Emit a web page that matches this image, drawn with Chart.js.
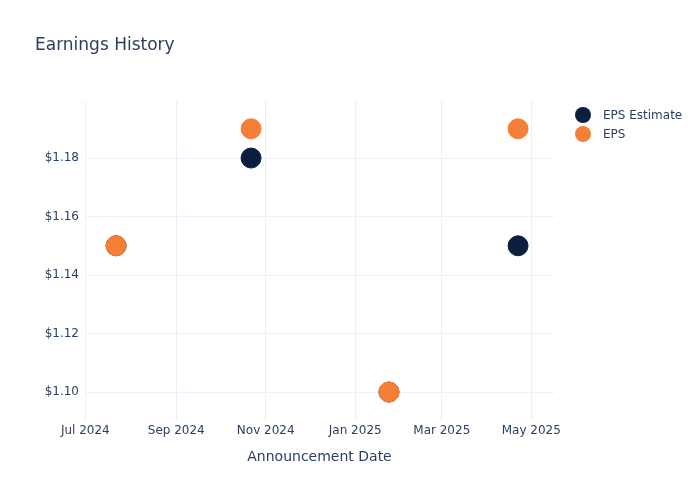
<!DOCTYPE html>
<html>
<head>
<meta charset="utf-8">
<script src="https://cdn.jsdelivr.net/npm/chart.js@4.4.1/dist/chart.umd.min.js"></script>
<style>
  body { margin: 0; background: #fff; font-family: "DejaVu Sans", sans-serif; }
  #wrap { position: relative; width: 700px; height: 500px; }
  #title { position: absolute; left: 35px; top: 34px; font-size: 17px; color: #2a3f5f; }
  #legend { position: absolute; left: 575px; top: 105px; font-size: 12px; color: #2a3f5f; }
  .item { display: flex; align-items: center; height: 19px; }
  .dot { width: 16px; height: 16px; border-radius: 50%; margin-right: 12px; }
</style>
</head>
<body>
<div id="wrap">
  <canvas id="chart" width="700" height="500"></canvas>
  <div id="title">Earnings History</div>
  <div id="legend"></div>
</div>
<script>
// announcement dates and values
const announceDates = ['2024-07-22', '2024-10-22', '2025-01-24', '2025-04-22'];
const epsEstimate = [1.15, 1.18, 1.10, 1.15];
const epsActual = [1.15, 1.19, 1.10, 1.19];
const seriesNames = ['EPS Estimate', 'EPS'];
const seriesColors = ['#0b1f40', '#f57f36'];

const tickDates = ['2024-07-01', '2024-09-01', '2024-11-01', '2025-01-01', '2025-03-01', '2025-05-01'];
const tickLabels = ['Jul 2024', 'Sep 2024', 'Nov 2024', 'Jan 2025', 'Mar 2025', 'May 2025'];
const yTicks = [1.10, 1.12, 1.14, 1.16, 1.18];

const toTime = s => Date.parse(s + 'T00:00:00Z');
const DAY = 86400000;
const xMin = toTime('2024-07-01') - 0.2 * DAY;
const xMax = toTime('2025-05-16') + 0.5 * DAY;

function points(vals) {
    return vals.map((v, i) => ({ x: toTime(announceDates[i]), y: v }));
}

// legend as html
const legend = document.getElementById('legend');
seriesNames.forEach((name, i) => {
    const div = document.createElement('div');
    div.className = 'item';
    div.innerHTML = `<span class="dot" style="background:${seriesColors[i]}"></span>${name}`;
    legend.appendChild(div);
});

const font = { family: 'DejaVu Sans', size: 12 };
const gridColor = '#ebf0f8';

new Chart(document.getElementById('chart'), {
    type: 'scatter',
    data: {
        datasets: [
            {
                label: seriesNames[0],
                data: points(epsEstimate),
                backgroundColor: seriesColors[0],
                borderColor: seriesColors[0],
                pointRadius: 10,
                order: 1
            },
            {
                label: seriesNames[1],
                data: points(epsActual),
                backgroundColor: seriesColors[1],
                borderColor: seriesColors[1],
                pointRadius: 10,
                order: 0
            }
        ]
    },
    options: {
        responsive: false,
        animation: false,
        layout: { padding: { top: 101, right: 146, left: 0, bottom: 0 } },
        plugins: {
            legend: { display: false },
            tooltip: { enabled: false }
        },
        scales: {
            x: {
                type: 'linear',
                min: xMin,
                max: xMax,
                afterBuildTicks: scale => {
                    scale.ticks = tickDates.map(d => ({ value: toTime(d) }));
                },
                afterFit: scale => { scale.height = 79; },
                ticks: {
                    font: font,
                    color: '#2a3f5f',
                    padding: 3,
                    maxRotation: 0,
                    autoSkip: false,
                    callback: v => tickLabels[tickDates.map(toTime).indexOf(v)]
                },
                grid: { color: gridColor, drawTicks: false },
                border: { display: false },
                title: {
                    display: true,
                    text: 'Announcement Date',
                    font: { family: 'DejaVu Sans', size: 14 },
                    color: '#2a3f5f',
                    padding: { top: 0, bottom: 34 }
                }
            },
            y: {
                min: 1.0901,
                max: 1.1995,
                afterBuildTicks: scale => {
                    scale.ticks = yTicks.map(v => ({ value: v }));
                },
                afterFit: scale => { scale.width = 85; },
                ticks: {
                    font: font,
                    color: '#2a3f5f',
                    padding: 6,
                    callback: v => '$' + v.toFixed(2)
                },
                grid: { color: gridColor, drawTicks: false },
                border: { display: false }
            }
        }
    }
});
</script>
</body>
</html>
